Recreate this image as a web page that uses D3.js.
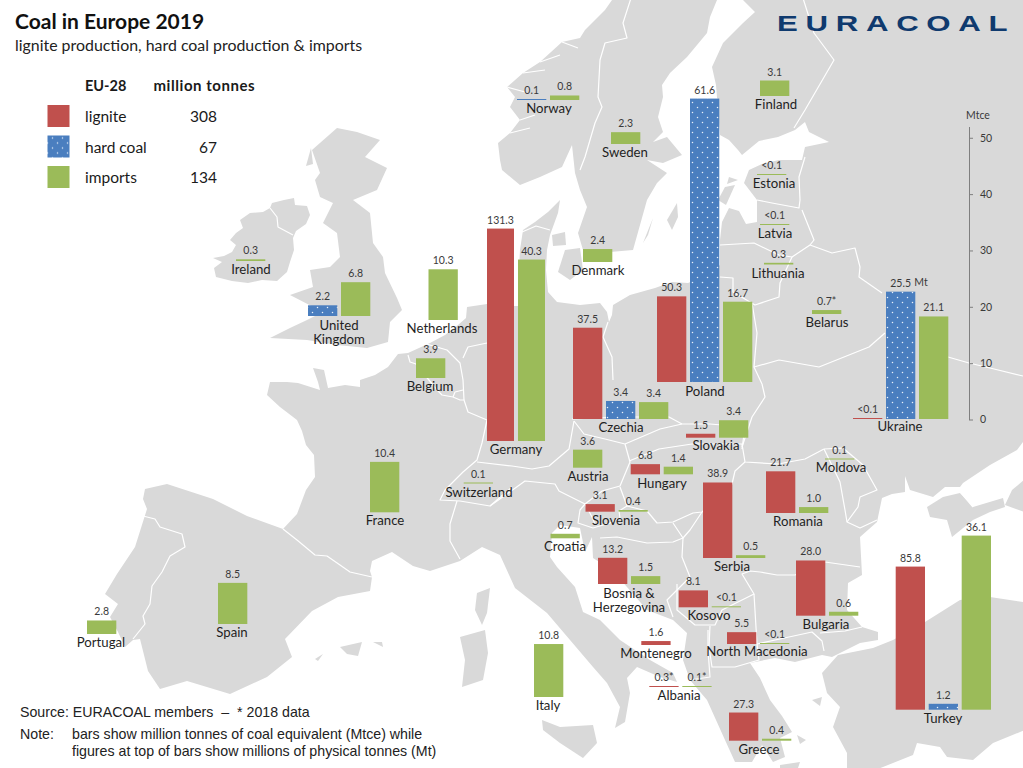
<!DOCTYPE html>
<html>
<head>
<meta charset="utf-8">
<script src="https://cdn.jsdelivr.net/npm/d3@7"></script>
<style>
  html, body { margin: 0; padding: 0; background: #fff; }
  svg { display: block; }
  text { font-family: Lato, "Noto Sans", sans-serif; fill: #1a1a1a; }
  .note { font-family: "Liberation Sans", Arial, sans-serif; font-size: 14.2px; fill: #222; white-space: pre; }
  .val { font-size: 10.5px; fill: #3a3a3a; text-anchor: middle; }
  .country { font-size: 13.2px; fill: #1f1f1f; text-anchor: middle; }
</style>
</head>
<body>
<svg id="chart" width="1023" height="768"></svg>
<script>
// ------------------ chart data -------------------------------------------

let countries = ['Ireland','United|Kingdom','Netherlands','Belgium','Germany','Norway','Sweden','Finland','Denmark','Poland',
    'Estonia','Latvia','Lithuania','Belarus','Ukraine','Czechia','Slovakia','Austria','Hungary','Switzerland','France',
    'Slovenia','Croatia','Serbia','Romania','Moldova','Bosnia &|Herzegovina','Kosovo','Bulgaria','North Macedonia',
    'Montenegro','Albania','Italy','Greece','Turkey','Spain','Portugal'];

// bar heights, million tonnes of coal equivalent
let ligniteMtce = [null,null,null,null,37.7,null,null,null,null,15.2,
    null,null,null,null,0.1,16.2,0.7,null,1.8,null,null,
    1.35,null,13.4,7.4,null,4.65,3,9.8,2.1,
    0.7,0.1,null,5,25.4,null,null];
let hardCoalMtce = [null,1.9,null,null,null,0.1,null,null,null,50.3,
    null,null,null,null,22.6,3.2,null,null,null,null,null,
    null,null,null,null,null,null,null,null,null,
    null,null,null,null,1.05,null,null];
let importsMtce = [0.3,6,9,3.5,32.2,0.8,2.1,2.75,2.3,14.25,
    0.1,0.1,0.3,0.7,18.2,3,3.1,3.2,1.35,0.1,8.95,
    0.3,0.8,0.5,1.05,0.1,1.4,0.1,0.7,0.1,
    null,0.1,9.4,0.35,30.9,7.3,2.4];

// figures at the top of the bars, million physical tonnes
let ligniteMt = [null,null,null,null,'131.3',null,null,null,null,'50.3',
    null,null,null,null,'<0.1','37.5','1.5',null,'6.8',null,null,
    '3.1',null,'38.9','21.7',null,'13.2','8.1','28.0','5.5',
    '1.6','0.3*',null,'27.3','85.8',null,null];
let hardCoalMt = [null,'2.2',null,null,null,'0.1',null,null,null,'61.6',
    null,null,null,null,'25.5','3.4',null,null,null,null,null,
    null,null,null,null,null,null,null,null,null,
    null,null,null,null,'1.2',null,null];
let importsMt = ['0.3','6.8','10.3','3.9','40.3','0.8','2.3','3.1','2.4','16.7',
    '<0.1','<0.1','0.3','0.7*','21.1','3.4','3.4','3.6','1.4','0.1','10.4',
    '0.4','0.7','0.5','1.0','0.1','1.5','<0.1','0.6','<0.1',
    null,'0.1*','10.8','0.4','36.1','8.5','2.8'];

let legendNames = ['lignite','hard coal','imports'];
let legendTotals = [308,67,134];
let axisTicks = [0,10,20,30,40,50];

// ------------------ where each country group sits on the map ---------------------

let anchorX = [236,308,428.5,416,487,517,611,760,583,657,757,760,764,812,853,573,686,573,630.7,463.7,370,
    585.5,550.5,703,766,825,598,678.7,796,727,641.3,649.3,534,729,895.7,218,87];
let baseY = [261,316,320,378,441,100,144,96,262,382,175,225,264.5,314,419,419,437.7,467.7,474.3,483.5,512.3,
    511.7,538.3,558,513,459.5,584,607.3,615.7,644,645,687,697,740.7,709.7,624,634];
let labelX = [251,339,442,430,516,549,625,776,598,705,774,775,778,827,900,621,716,588,662,479,385,
    616,565,732,798,841,629,709,826,757,656,679,548,759,943,232,101];
let labelY = [274,330,333,391,454,113,157,109,275,396,188,238,278,327,431,432,450,481,488,497,525,
    525,551,571,526,472,598,620,629,656,658,700,710,754,723,637,647];

// ------------------ base map outlines (pixels of the picture) ---------------------

let landShapes = [
  // mainland, from Finland round the coast to the Sea of Azov
  [[743,-5],[743,0],[755,12],[743,23],[723,43],[712,67],[716,85],[718,110],[720,135],[729,140],[738,150],[742,155],[759,141],[778,137],[795,130],[805,122],[809,132],[829,142],[805,147],[802,160],[779,160],[762,164],[749,170],[744,183],[757,200],[757,222],[746,224],[739,211],[729,208],[722,222],[720,240],[720,265],[700,278],[688,283],[672,282],[655,288],[630,295],[613,305],[612,315],[609,322],[607,312],[600,303],[580,305],[557,302],[548,292],[546,270],[547,250],[550,235],[558,213],[560,200],[548,212],[535,222],[523,230],[520,250],[518,285],[518,306],[500,306],[487,304],[467,307],[466,318],[458,325],[445,335],[430,343],[408,353],[398,354],[388,367],[375,375],[360,380],[360,387],[345,385],[328,388],[324,370],[313,368],[318,382],[320,390],[298,383],[287,382],[270,382],[267,395],[280,407],[297,420],[302,431],[306,445],[314,455],[315,477],[306,490],[297,514],[283,529],[247,516],[213,499],[167,484],[145,489],[143,499],[147,509],[135,547],[117,574],[105,594],[118,604],[110,617],[118,632],[125,647],[133,640],[140,639],[148,671],[160,689],[187,681],[230,694],[267,677],[292,657],[285,639],[312,611],[338,597],[370,591],[372,577],[370,571],[372,561],[392,552],[413,566],[430,571],[460,561],[482,547],[500,555],[510,577],[515,588],[547,613],[570,640],[593,667],[607,683],[620,707],[615,728],[625,722],[630,693],[627,678],[637,667],[660,677],[677,682],[673,673],[650,660],[620,640],[600,620],[583,612],[575,587],[557,567],[550,557],[552,533],[560,525],[580,528],[585,552],[592,537],[593,558],[612,570],[627,587],[647,610],[673,620],[687,633],[683,660],[690,680],[707,700],[716,720],[725,740],[735,762],[752,762],[762,745],[773,762],[785,757],[780,738],[792,732],[782,716],[770,700],[760,678],[750,663],[775,658],[795,662],[822,655],[832,657],[840,653],[860,643],[878,640],[878,632],[862,627],[847,610],[848,583],[862,575],[860,537],[877,522],[882,498],[892,494],[905,492],[905,476],[910,490],[933,497],[945,487],[960,487],[963,483],[990,465],[1017,450],[1023,442],[1030,442],[1030,-5]],
  // Norway and Sweden
  [[612,-5],[612,0],[605,10],[585,30],[580,38],[562,42],[540,62],[523,73],[507,87],[515,97],[510,107],[520,120],[510,133],[498,143],[500,160],[502,170],[520,185],[540,177],[562,167],[572,145],[575,173],[580,190],[587,207],[578,233],[583,250],[610,252],[633,250],[647,200],[657,183],[667,173],[647,160],[663,163],[682,155],[667,137],[653,142],[663,132],[658,117],[663,97],[662,85],[670,73],[687,57],[707,33],[710,17],[717,0],[717,-5]],
  // Great Britain
  [[357,132],[380,140],[365,157],[387,168],[377,190],[353,200],[370,213],[373,243],[383,257],[385,273],[397,298],[402,310],[390,322],[388,342],[367,348],[337,345],[307,340],[270,338],[290,328],[307,320],[323,312],[290,295],[313,287],[310,270],[330,267],[340,257],[337,233],[323,223],[333,203],[320,197],[315,180],[320,173],[312,150],[337,128]],
  // Ireland
  [[272,203],[284,200],[294,198],[295,205],[307,206],[310,215],[306,224],[296,231],[293,238],[294,250],[290,262],[287,272],[277,281],[262,280],[248,283],[232,281],[216,277],[214,268],[222,262],[213,258],[224,256],[232,252],[236,245],[230,240],[236,233],[243,228],[240,220],[250,213],[263,212],[270,208]],
  // Crimea, Caucasus shore and Turkey
  [[927,507],[943,497],[960,493],[973,507],[1003,498],[1005,507],[990,512],[973,520],[952,537],[947,520],[930,517]],
  [[1030,475],[1012,490],[1005,505],[1030,514]],
  [[893,640],[925,622],[960,600],[990,597],[1030,603],[1030,728],[993,743],[973,760],[947,757],[940,747],[917,743],[913,755],[883,767],[870,772],[847,772],[847,753],[833,727],[840,707],[827,693],[822,673],[838,655],[873,648]],
  // Mediterranean islands
  [[542,720],[560,727],[593,725],[597,743],[583,758],[560,743],[543,730]],
  [[460,637],[485,630],[488,653],[483,680],[462,687],[465,660]],
  [[477,593],[490,588],[487,613],[482,625],[475,610]],
  [[340,647],[362,642],[358,656],[347,654]],
  [[373,642],[382,642],[383,647]],
  [[315,659],[323,654],[318,661]],
  // Baltic and Danish islands
  [[667,220],[677,203],[678,217],[672,230]],
  [[643,243],[653,218],[648,235]],
  [[565,250],[580,248],[583,270],[570,280],[558,272]],
  [[552,235],[565,232],[566,245],[553,246]],
  [[725,187],[735,185],[726,205],[718,200]],
  [[729,177],[738,180],[727,184]],
  // Hebrides and Aegean specks
  [[306,166],[311,148],[313,164]],
  [[797,735],[806,740],[800,744]],
  [[812,700],[822,697],[820,706]],
  [[780,765],[800,762],[798,768],[780,768]]
];

let borderLines = [
  [[143,516],[155,519],[160,527],[182,534],[185,547],[170,556],[162,572],[152,586],[150,604],[143,616],[145,624],[133,639]],
  [[283,529],[297,540],[315,555],[327,556],[340,565],[350,572],[372,577]],
  [[408,355],[410,362],[416,364],[437,390],[442,395],[453,397],[460,400],[464,400],[468,412],[487,420],[482,443],[477,460],[463,472],[445,490],[440,500],[460,501],[490,506],[512,487]],
  [[453,397],[455,392],[463,390]],
  [[457,501],[450,524],[450,541],[460,559]],
  [[423,343],[447,350],[460,363],[463,380],[464,400]],
  [[487,343],[468,347],[463,358]],
  [[477,462],[512,466],[532,469],[549,466],[569,449],[574,421]],
  [[490,506],[525,481],[555,484],[559,491],[585,504],[592,517],[595,524]],
  [[574,421],[584,434],[605,439],[625,444],[630,462],[620,486],[602,491],[585,504]],
  [[585,504],[580,510],[578,523],[593,528],[610,523],[620,518],[619,511],[627,506],[620,487]],
  [[627,506],[647,511],[657,523],[673,522],[693,513],[702,512],[732,484],[735,471],[745,462]],
  [[625,444],[660,429],[682,424],[710,424],[745,427],[742,449]],
  [[629,461],[659,449],[692,444],[742,444],[745,462],[778,464],[805,459],[824,449]],
  [[762,384],[765,397],[752,417],[742,447]],
  [[824,449],[843,448],[863,465],[877,490],[860,497],[858,507],[847,522],[860,528],[877,520]],
  [[824,449],[840,482],[845,510],[847,522]],
  [[760,572],[777,575],[795,575],[825,562],[860,567]],
  [[702,512],[690,530],[683,538],[673,523]],
  [[600,538],[617,537],[647,543],[673,542],[683,538]],
  [[683,538],[682,557],[690,577],[677,590],[667,600],[673,617]],
  [[677,584],[677,610],[695,625],[715,625],[722,610],[754,594],[742,574],[750,571],[760,572]],
  [[710,626],[709,647],[712,667],[735,667],[759,660],[757,644],[754,594]],
  [[757,644],[789,637],[812,632],[822,641],[824,651]],
  [[820,633],[845,631],[862,627]],
  [[708,630],[708,650],[710,677],[690,680]],
  [[757,200],[772,203],[799,208],[800,200],[799,177],[805,157]],
  [[720,245],[754,243],[779,255],[792,257],[810,245],[814,240],[802,210]],
  [[810,245],[832,253],[855,248],[860,267],[859,277],[882,293]],
  [[792,257],[780,283],[779,297],[755,305],[733,292],[733,278],[720,277]],
  [[752,303],[757,333],[754,367],[762,384]],
  [[754,367],[779,360],[819,367],[869,347],[885,333]],
  [[948,357],[969,363],[990,368],[1023,376]],
  [[608,322],[603,337],[612,357],[613,380]],
  [[572,419],[620,417],[669,417],[682,424]],
  [[802,-5],[814,33],[834,60],[805,110],[794,128]],
  [[632,-5],[623,23],[627,38],[605,43],[600,60],[598,97],[602,107],[595,123],[585,157],[580,170]],
  [[270,208],[277,217],[278,227],[293,235]],
  [[957,488],[973,507]],
  [[522,232],[536,226],[550,230]],
  // Norwegian fjords
  [[507,87],[525,92]],
  [[523,73],[545,70]],
  [[540,62],[560,55]],
  [[510,133],[530,128]],
  [[520,120],[535,115]],
  [[562,42],[578,48]]
];

// ------------------ setup ---------------------

let svg = d3.select('#chart');

let seriesColor = ['#c0504d','url(#dots)','#9bbb59'];

// white dots on the hard coal bars
let pattern = svg.append('defs').append('pattern')
    .attr('id','dots')
    .attr('width',10)
    .attr('height',10)
    .attr('patternUnits','userSpaceOnUse');
pattern.append('rect').attr('width',10).attr('height',10).attr('fill','#4a7ebf');
pattern.selectAll('circle')
    .data([[2.5,2.5],[7.5,7.5]])
    .enter()
    .append('circle')
    .attr('cx',function(d){return d[0];})
    .attr('cy',function(d){return d[1];})
    .attr('r',0.75)
    .attr('fill','#e8f0fa');

// Mtce scale, the same for the axis and for every bar
let yScale = d3.scaleLinear().domain([0,52]).range([419.5,126.5]);
let barHeight = function(v){ return Math.max(1, yScale(0) - yScale(v)); };

// slots inside a country group
let slot = d3.scaleBand().domain([0,1,2]).range([0,95.3]).paddingInner(0.112);
let slotGermany = d3.scaleBand().domain([0,1,2]).range([0,89]).paddingInner(0.129);

// ------------------ map ---------------------

let outline = d3.line();

svg.append('g').selectAll('path')
    .data(landShapes)
    .enter()
    .append('path')
    .attr('d',function(d){return outline(d) + 'Z';})
    .attr('fill','#d9d9d9');

svg.append('g').selectAll('path')
    .data(borderLines)
    .enter()
    .append('path')
    .attr('d',function(d){return outline(d);})
    .attr('fill','none')
    .attr('stroke','#fff')
    .attr('stroke-width',1.2)
    .attr('stroke-linejoin','round');

// ------------------ bars and their figures ---------------------

let bars = [];
countries.forEach(function(name,i) {
    let scale = name === 'Germany' ? slotGermany : slot;
    let present = [[ligniteMtce[i],ligniteMt[i],0],[hardCoalMtce[i],hardCoalMt[i],1],[importsMtce[i],importsMt[i],2]]
        .filter(function(d){return d[0] !== null;});
    present.forEach(function(d,j) {
        bars.push({value:d[0], label:d[1], series:d[2], x:anchorX[i] + scale(j), w:scale.bandwidth(), base:baseY[i]});
    });
});

svg.append('g').selectAll('rect')
    .data(bars)
    .enter()
    .append('rect')
    .attr('x',function(d){return d.x;})
    .attr('y',function(d){return d.base - barHeight(d.value);})
    .attr('width',function(d){return d.w;})
    .attr('height',function(d){return barHeight(d.value);})
    .attr('fill',function(d){return seriesColor[d.series];});

svg.append('g').selectAll('text')
    .data(bars)
    .enter()
    .append('text')
    .attr('class','val')
    .attr('x',function(d){return d.x + d.w/2;})
    .attr('y',function(d){return d.base - barHeight(d.value) - 5;})
    .text(function(d){return d.label;});

svg.append('text').attr('class','val').attr('x',921).attr('y',286).text('Mt');

// country names, '|' breaks the line
let names = svg.append('g').selectAll('text')
    .data(countries)
    .enter()
    .append('text')
    .attr('class','country')
    .attr('y',function(d,i){return labelY[i];});

names.selectAll('tspan')
    .data(function(d,i){return d.split('|').map(function(t){return {t:t, x:labelX[i]};});})
    .enter()
    .append('tspan')
    .attr('x',function(d){return d.x;})
    .attr('dy',function(d,j){return j ? 14 : 0;})
    .text(function(d){return d.t;});

// ------------------ Mtce axis ---------------------

let axis = svg.append('g')
    .attr('transform','translate(969,0)')
    .call(d3.axisRight(yScale).tickValues(axisTicks).tickSize(4).tickPadding(7).tickSizeOuter(0));
axis.selectAll('path,line').attr('stroke','#7f7f7f');
axis.selectAll('text').attr('font-size',10.5).attr('font-family','Lato').style('fill','#3a3a3a');

svg.append('text').attr('class','val').attr('x',978).attr('y',119).text('Mtce');

// ------------------ titles, legend, notes ---------------------

svg.append('text').attr('x',15).attr('y',29).attr('font-size',21).attr('font-weight',700).style('fill','#111').text('Coal in Europe 2019');
svg.append('text').attr('x',15).attr('y',51).attr('font-size',15.9).style('fill','#222').text('lignite production, hard coal production & imports');

svg.append('text').attr('x',85).attr('y',91).attr('font-size',14.5).attr('font-weight',700).text('EU-28');
svg.append('text').attr('x',153.5).attr('y',91).attr('font-size',15).attr('font-weight',700).attr('letter-spacing',0.55).text('million tonnes');

let legendY = d3.scalePoint().domain(legendNames).range([105,166]);

let legend = svg.append('g').selectAll('g')
    .data(legendNames)
    .enter()
    .append('g')
    .attr('transform',function(d){return 'translate(0,' + legendY(d) + ')';});

legend.append('rect')
    .attr('x',47.5)
    .attr('width',22)
    .attr('height',22)
    .attr('fill',function(d,i){return seriesColor[i];});

legend.append('text')
    .attr('x',85)
    .attr('y',17)
    .attr('font-size',15.5)
    .text(function(d){return d;});

legend.append('text')
    .attr('x',217)
    .attr('y',17)
    .attr('font-size',15.5)
    .attr('text-anchor','end')
    .text(function(d,i){return legendTotals[i];});

// logo
svg.append('text')
    .attr('transform','translate(777,31) scale(1.42,1)')
    .attr('font-size',22)
    .attr('font-weight',700)
    .attr('letter-spacing',5.4)
    .style('font-family','"Liberation Sans", Arial, sans-serif')
    .style('fill','#0f3a6e')
    .text('EURACOAL');

svg.append('text').attr('class','note').attr('x',20).attr('y',717).text('Source: EURACOAL members  –  * 2018 data');
svg.append('text').attr('class','note').attr('x',20).attr('y',739).text('Note:');
svg.append('text').attr('class','note').attr('x',72).attr('y',739).text('bars show million tonnes of coal equivalent (Mtce) while');
svg.append('text').attr('class','note').attr('x',72).attr('y',756).text('figures at top of bars show millions of physical tonnes (Mt)');
</script>
</body>
</html>
